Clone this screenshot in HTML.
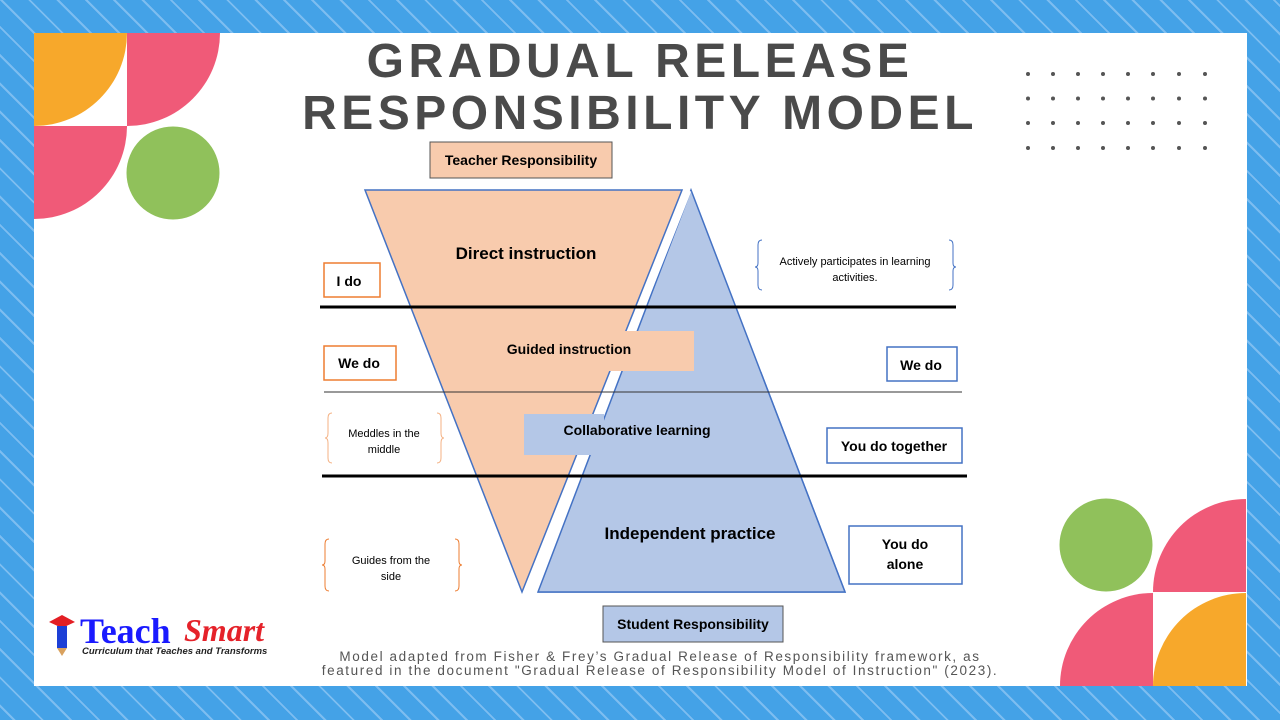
<!DOCTYPE html>
<html><head><meta charset="utf-8"><style>
html,body{margin:0;padding:0;width:1280px;height:720px;overflow:hidden;}
body{position:relative;font-family:"Liberation Sans",sans-serif;background:#44a2e7;}
.bg{position:absolute;left:0;top:0;width:1280px;height:720px;background:repeating-linear-gradient(45deg,#44a2e7 0 9px,#7dbdf0 9px 11px,#44a2e7 11px 20px);}
.panel{position:absolute;left:34px;top:33px;width:1213px;height:653px;background:#fff;}
.t{position:absolute;left:0;width:1280px;text-align:center;color:#4a4a4a;font-weight:bold;font-size:48px;letter-spacing:4.5px;}
.cap{position:absolute;left:240px;width:840px;text-align:center;color:#555;font-size:13.5px;letter-spacing:1.6px;line-height:14px;top:650px;}
</style></head><body>
<div class="bg"></div>
<div class="panel"></div>
<svg style="position:absolute;left:0;top:0" width="1280" height="720">
<defs>
<clipPath id="c1"><rect x="34" y="33" width="93" height="93"/></clipPath>
<clipPath id="c2"><rect x="127" y="33" width="93" height="93"/></clipPath>
<clipPath id="c3"><rect x="34" y="126" width="93" height="93"/></clipPath>
<clipPath id="c4"><rect x="1153" y="499" width="93" height="93"/></clipPath>
<clipPath id="c5"><rect x="1060" y="593" width="93" height="93"/></clipPath>
<clipPath id="c6"><rect x="1153" y="593" width="93" height="93"/></clipPath>
<clipPath id="low"><rect x="0" y="372" width="1280" height="300"/></clipPath>
<clipPath id="up"><rect x="0" y="150" width="1280" height="222"/></clipPath>
</defs>
<circle cx="34" cy="33" r="93" fill="#f7a82b" clip-path="url(#c1)"/>
<circle cx="127" cy="33" r="93" fill="#f05a78" clip-path="url(#c2)"/>
<circle cx="34" cy="126" r="93" fill="#f05a78" clip-path="url(#c3)"/>
<circle cx="173" cy="173" r="46.5" fill="#90c15b"/>
<circle cx="1106" cy="545" r="46.5" fill="#90c15b"/>
<circle cx="1246" cy="592" r="93" fill="#f05a78" clip-path="url(#c4)"/>
<circle cx="1153" cy="686" r="93" fill="#f05a78" clip-path="url(#c5)"/>
<circle cx="1246" cy="686" r="93" fill="#f7a82b" clip-path="url(#c6)"/>
<g fill="#555">
<g id="r"><circle cx="1028" cy="74" r="2"/><circle cx="1053" cy="74" r="2"/><circle cx="1078" cy="74" r="2"/><circle cx="1103" cy="74" r="2"/><circle cx="1128" cy="74" r="2"/><circle cx="1153" cy="74" r="2"/><circle cx="1179" cy="74" r="2"/><circle cx="1205" cy="74" r="2"/></g>
<use href="#r" y="24.5"/><use href="#r" y="49"/><use href="#r" y="74"/>
</g>
<polygon points="691,190 538,592 845,592" fill="#b4c7e7" stroke="#4472c4" stroke-width="1.5"/>
<line x1="687" y1="190" x2="527" y2="592" stroke="#fff" stroke-width="9" clip-path="url(#up)"/>
<polygon points="365,190 682,190 522,592" fill="#f8cbad" stroke="#4472c4" stroke-width="1.5"/>
<g clip-path="url(#low)">
<line x1="686" y1="190" x2="533" y2="592" stroke="#fff" stroke-width="9"/>
<polygon points="691,190 538,592 845,592" fill="#b4c7e7" stroke="#4472c4" stroke-width="1.5"/>
</g>
<rect x="600" y="331" width="94" height="40" fill="#f8cbad"/>
<rect x="524" y="414" width="80" height="41" fill="#b4c7e7"/>
<line x1="320" y1="307" x2="956" y2="307" stroke="#000" stroke-width="3"/>
<line x1="324" y1="392" x2="962" y2="392" stroke="#333" stroke-width="1"/>
<line x1="322" y1="476" x2="967" y2="476" stroke="#000" stroke-width="3"/>
<rect x="430" y="142" width="182" height="36" fill="#f8cbad" stroke="#555" stroke-width="1"/>
<rect x="603" y="606" width="180" height="36" fill="#b4c7e7" stroke="#555" stroke-width="1"/>
<rect x="324" y="263" width="56" height="34" fill="#fff" stroke="#ed7d31" stroke-width="1.5"/>
<rect x="324" y="346" width="72" height="34" fill="#fff" stroke="#ed7d31" stroke-width="1.5"/>
<rect x="887" y="347" width="70" height="34" fill="#fff" stroke="#4472c4" stroke-width="1.5"/>
<rect x="827" y="428" width="135" height="35" fill="#fff" stroke="#4472c4" stroke-width="1.5"/>
<rect x="849" y="526" width="113" height="58" fill="#fff" stroke="#4472c4" stroke-width="1.5"/>
<g fill="none" stroke-width="1">
<path d="M762,240 q-4,0 -4,5 v18 q0,4 -3,4 q3,0 3,4 v14 q0,5 4,5" stroke="#4472c4"/>
<path d="M949,240 q4,0 4,5 v18 q0,4 3,4 q-3,0 -3,4 v14 q0,5 -4,5" stroke="#4472c4"/>
<path d="M332,413 q-4,0 -4,5 v15 q0,5 -3,5 q3,0 3,5 v15 q0,5 4,5" stroke="#f4b183"/>
<path d="M437,413 q4,0 4,5 v15 q0,5 3,5 q-3,0 -3,5 v15 q0,5 -4,5" stroke="#f4b183"/>
<path d="M329,539 q-4,0 -4,5 v17 q0,4 -3,4 q3,0 3,4 v17 q0,5 4,5" stroke="#ed7d31"/>
<path d="M455,539 q4,0 4,5 v17 q0,4 3,4 q-3,0 -3,4 v17 q0,5 -4,5" stroke="#ed7d31"/>
</g>
<g font-family="Liberation Sans, sans-serif" font-weight="bold" fill="#000" text-anchor="middle">
<text x="521" y="165" font-size="14">Teacher Responsibility</text>
<text x="693" y="629" font-size="14">Student Responsibility</text>
<text x="526" y="259" font-size="17">Direct instruction</text>
<text x="569" y="354" font-size="14">Guided instruction</text>
<text x="637" y="435" font-size="14">Collaborative learning</text>
<text x="690" y="539" font-size="17">Independent practice</text>
<text x="349" y="286" font-size="14">I do</text>
<text x="359" y="368" font-size="14">We do</text>
<text x="921" y="370" font-size="14">We do</text>
<text x="894" y="451" font-size="14">You do together</text>
<text x="905" y="549" font-size="14">You do</text>
<text x="905" y="569" font-size="14">alone</text>
</g>
<g font-family="Liberation Sans, sans-serif" font-size="11" fill="#000" text-anchor="middle">
<text x="855" y="265">Actively participates in learning</text>
<text x="855" y="281">activities.</text>
<text x="384" y="437">Meddles in the</text>
<text x="384" y="453">middle</text>
<text x="391" y="564">Guides from the</text>
<text x="391" y="580">side</text>
</g>
<g>
<path d="M49,622 l13,-7 l13,7 l-13,6z" fill="#e31e24"/>
<rect x="57" y="626" width="10" height="22" fill="#1d3fd6"/>
<path d="M57,648 h10 l-5,8z" fill="#d9a15e"/>
<text x="80" y="643" font-family="Liberation Serif, serif" font-weight="bold" font-size="36" fill="#1a1aff">Teach</text>
<text x="184" y="641" font-family="Liberation Serif, serif" font-style="italic" font-weight="bold" font-size="32" fill="#e5222a">Smart</text>
<text x="82" y="654" font-family="Liberation Sans, sans-serif" font-style="italic" font-weight="bold" font-size="9.5" fill="#222">Curriculum that Teaches and Transforms</text>
</g>
</svg>
<div class="t" style="top:37px;line-height:50px;">GRADUAL RELEASE</div>
<div class="t" style="top:89px;line-height:50px;">RESPONSIBILITY MODEL</div>
<div class="cap">Model adapted from Fisher &amp; Frey’s Gradual Release of Responsibility framework, as<br>featured in the document "Gradual Release of Responsibility Model of Instruction" (2023).</div>
</body></html>
